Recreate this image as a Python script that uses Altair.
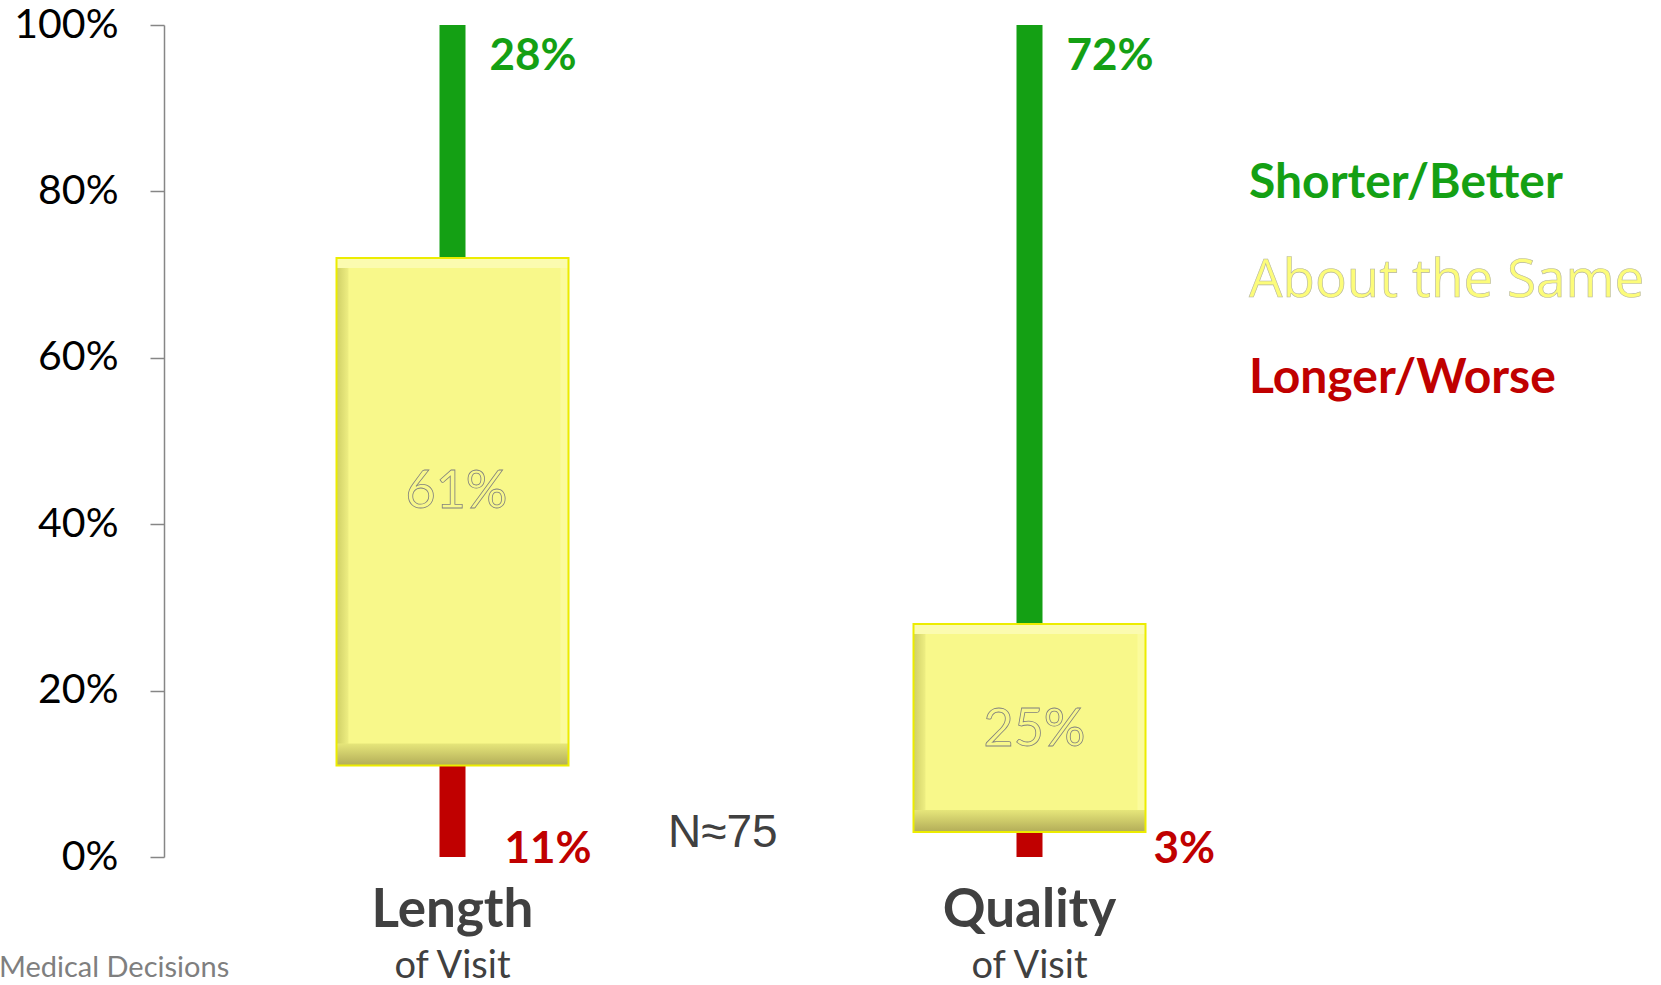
import altair as alt
import pandas as pd

# ---- data ----
categories = ["Length", "Quality"]
subtitles = ["of Visit", "of Visit"]
better = [28, 72]   # Shorter/Better (green)
same = [61, 25]     # About the Same (yellow)
worse = [11, 3]     # Longer/Worse (red)
tick_values = [0, 20, 40, 60, 80, 100]
legend_labels = ["Shorter/Better", "About the Same", "Longer/Worse"]
note_text = "N\u224875"
source_text = "Medical Decisions"

GREEN = "#14a014"
RED = "#c00000"
YELLOW = "#f8f88a"
DARK = "#404040"

df = pd.DataFrame({"category": categories, "sub": subtitles,
                   "better": better, "same": same, "worse": worse})
df["same_top"] = df["worse"] + df["same"]
df["total"] = df["same_top"] + df["better"]
df["same_mid"] = df["worse"] + df["same"] / 2
df["better_lbl"] = df["better"].astype(str) + "%"
df["same_lbl"] = df["same"].astype(str) + "%"
df["worse_lbl"] = df["worse"].astype(str) + "%"

yscale = alt.Scale(domain=[0, 100], nice=False, zero=True)
yaxis = alt.Axis(values=tick_values, labelExpr="datum.value + '%'", title="",
                 grid=False, domainColor="#868686", tickColor="#868686",
                 domainWidth=1.5, tickWidth=1.5, tickSize=14,
                 labelFont="Lato", labelFontSize=41, labelColor="#000000",
                 labelPadding=32)

def Y(field):
    return alt.Y(field, scale=yscale, axis=yaxis)

base = alt.Chart(df).encode(
    x=alt.X("category:N", sort=categories, axis=None,
            scale=alt.Scale(type="band", paddingInner=0, paddingOuter=0))
)

red = base.mark_bar(size=26, color=RED).encode(y=Y("worse:Q"), y2=alt.datum(0))
green = base.mark_bar(size=26, color=GREEN).encode(y=Y("same_top:Q"), y2="total:Q")

box = base.mark_bar(size=232, fill=YELLOW).encode(y=Y("worse:Q"), y2="same_top:Q")
left_bevel = base.mark_bar(
    size=12, xOffset=-110,
    fill=alt.LinearGradient(gradient="linear", x1=0, x2=1, y1=0, y2=0,
                            stops=[alt.GradientStop(offset=0, color="#cfcf66"),
                                   alt.GradientStop(offset=1, color="#eeee82")])
).encode(y=Y("worse:Q"), y2="same_top:Q")
right_bevel = base.mark_bar(size=8, xOffset=112, fill="#fbfb9c").encode(
    y=Y("worse:Q"), y2="same_top:Q")
top_bevel = base.mark_bar(size=232, y2Offset=10, fill="#fbfbb0").encode(
    y=Y("same_top:Q"), y2="same_top:Q")
bottom_bevel = base.mark_bar(
    size=232, y2Offset=-22,
    fill=alt.LinearGradient(gradient="linear", x1=0, x2=0, y1=0, y2=1,
                            stops=[alt.GradientStop(offset=0, color="#e6e67a"),
                                   alt.GradientStop(offset=1, color="#b2ac58")])
).encode(y=Y("worse:Q"), y2="worse:Q")
outline = base.mark_bar(size=232, filled=False, stroke="#ecec00", strokeWidth=2).encode(
    y=Y("worse:Q"), y2="same_top:Q")

better_txt = base.mark_text(font="Lato", fontWeight="bold", fontSize=44, color=GREEN,
                            align="left", baseline="alphabetic", dx=37, dy=45).encode(
    y=Y("total:Q"), text="better_lbl:N")

worse_len = base.transform_filter(alt.datum.category == categories[0]).mark_text(
    font="Lato", fontWeight="bold", fontSize=44, color=RED,
    align="left", baseline="alphabetic", dx=52, dy=6).encode(
    y=alt.datum(0), text="worse_lbl:N")
worse_q = base.transform_filter(alt.datum.category == categories[1]).mark_text(
    font="Lato", fontWeight="bold", fontSize=44, color=RED,
    align="left", baseline="alphabetic", dx=124, dy=6).encode(
    y=alt.datum(0), text="worse_lbl:N")

same_len = base.transform_filter(alt.datum.category == categories[0]).mark_text(
    font="Lato", fontSize=52, fill=YELLOW, stroke="#7f7f7f", strokeWidth=0.8,
    align="center", baseline="middle", dx=4, dy=-20).encode(
    y=Y("same_mid:Q"), text="same_lbl:N")
same_q = base.transform_filter(alt.datum.category == categories[1]).mark_text(
    font="Lato", fontSize=52, fill=YELLOW, stroke="#7f7f7f", strokeWidth=0.8,
    align="center", baseline="middle", dx=5, dy=2).encode(
    y=Y("same_mid:Q"), text="same_lbl:N")

cat_txt = base.mark_text(font="Lato", fontWeight="bold", fontSize=53, color=DARK,
                         baseline="alphabetic").encode(y=alt.value(902), text="category:N")
sub_txt = base.mark_text(font="Lato", fontSize=38, color=DARK,
                         baseline="alphabetic").encode(y=alt.value(953), text="sub:N")


def note(text, x, y, **kw):
    return alt.Chart(pd.DataFrame({"t": [text]})).mark_text(
        align="left", baseline="alphabetic", **kw).encode(
        x=alt.value(x), y=alt.value(y), text="t:N")

leg1 = note(legend_labels[0], 1085, 173, font="Lato", fontWeight="bold", fontSize=48, color=GREEN)
leg2 = note(legend_labels[1], 1085, 272, font="Open Sans", fontSize=53, fill="#fcfc7a",
            stroke="#b4b4a0", strokeWidth=0.6)
leg3 = note(legend_labels[2], 1085, 368, font="Lato", fontWeight="bold", fontSize=48, color=RED)
n_txt = note(note_text, 504, 822, font="Liberation Sans", fontSize=46, color=DARK)
src_txt = note(source_text, -165, 952, font="Lato", fontSize=29, color="#7f7f7f")

chart = alt.layer(
    red, green, box, left_bevel, right_bevel, top_bevel, bottom_bevel, outline,
    better_txt, worse_len, worse_q, same_len, same_q, cat_txt, sub_txt,
    leg1, leg2, leg3, n_txt, src_txt
).properties(
    width=1154, height=832,
    autosize=alt.AutoSizeParams(type="none"),
    padding={"left": 164, "top": 25, "right": 343, "bottom": 128},
    background="#ffffff",
).configure_view(stroke="transparent", strokeWidth=0)

chart.save("out.html", embed_options={"renderer": "svg", "actions": False})
